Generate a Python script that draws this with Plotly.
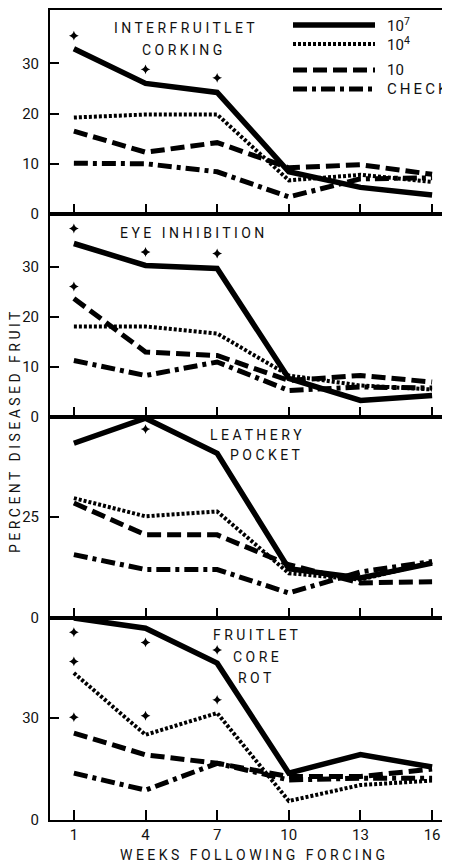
import plotly.graph_objects as go

weeks = [1, 4, 7, 10, 13, 16]
week_labels = ["1", "4", "7", "10", "13", "16"]
series_names = ["10<sup>7</sup>", "10<sup>4</sup>", "10", "CHECK"]

# Panel 1: interfruitlet corking
corking_1e7 = [32.9, 26.0, 24.2, 8.4, 5.3, 3.8]
corking_1e4 = [19.2, 19.8, 19.8, 6.7, 7.8, 6.4]
corking_10 = [16.5, 12.3, 14.2, 9.2, 9.8, 7.9]
corking_check = [10.1, 10.0, 8.4, 3.4, 7.0, 7.2]
corking_sig_x = [1, 4, 7]
corking_sig_y = [35.5, 28.8, 27.1]

# Panel 2: eye inhibition
eye_1e7 = [34.7, 30.3, 29.7, 7.7, 3.3, 4.3]
eye_1e4 = [18.1, 18.1, 16.7, 8.3, 6.3, 5.5]
eye_10 = [23.7, 13.0, 12.3, 7.3, 8.3, 7.0]
eye_check = [11.3, 8.3, 11.0, 5.3, 6.0, 5.8]
eye_sig_x = [1, 4, 7, 1]
eye_sig_y = [37.7, 33.0, 32.7, 26.1]

# Panel 3: leathery pocket
leather_1e7 = [43.3, 49.5, 40.8, 12.2, 9.9, 13.6]
leather_1e4 = [29.7, 25.2, 26.4, 11.1, 9.5, 13.8]
leather_10 = [28.5, 20.6, 20.6, 13.2, 8.7, 9.0]
leather_check = [15.7, 12.0, 12.0, 6.2, 11.4, 14.0]
leather_sig_x = [4]
leather_sig_y = [46.8]

# Panel 4: fruitlet core rot
core_1e7 = [59.5, 56.5, 46.2, 13.8, 19.3, 15.6]
core_1e4 = [43.3, 25.1, 31.5, 5.6, 10.3, 11.6]
core_10 = [25.6, 19.2, 16.7, 12.8, 12.8, 15.0]
core_check = [13.8, 8.8, 16.7, 11.8, 12.3, 12.3]
core_sig_x = [1, 1, 1, 4, 4, 7, 7]
core_sig_y = [55.3, 46.7, 30.3, 52.3, 30.7, 50.1, 35.4]

panel_series = [
    [corking_1e7, corking_1e4, corking_10, corking_check],
    [eye_1e7, eye_1e4, eye_10, eye_check],
    [leather_1e7, leather_1e4, leather_10, leather_check],
    [core_1e7, core_1e4, core_10, core_check],
]
panel_sig = [
    (corking_sig_x, corking_sig_y),
    (eye_sig_x, eye_sig_y),
    (leather_sig_x, leather_sig_y),
    (core_sig_x, core_sig_y),
]
panel_ranges = [[0, 40.6], [0, 40.6], [0, 49.8], [0, 59.5]]
panel_ticks = [[0, 10, 20, 30], [0, 10, 20, 30], [0, 25], [0, 30]]

# page body has an 8px margin; figure sized to fill the rest of the window
OFF = 8
W, H = 450 - OFF, 866 - OFF
ML, MR, MT, MB = 50 - OFF, 0, 10 - OFF, 866 - 820
PW, PH = W - ML - MR, H - MT - MB
# panel boundaries in screen pixels (top to bottom)
bounds = [10, 214, 417, 618, 820]


def py(y):
    return (820 - y) / PH


def px(x):
    return (x - 50) / PW


styles = [
    dict(width=5.5, dash="solid"),
    dict(width=4, dash="3px,2px"),
    dict(width=5, dash="14px,6px"),
    dict(width=5, dash="14px,5px,4px,5px"),
]

FONT = "Roboto, Liberation Sans, sans-serif"

fig = go.Figure()
for i in range(4):
    xa = "x" if i == 0 else f"x{i+1}"
    ya = "y" if i == 0 else f"y{i+1}"
    for s, vals in enumerate(panel_series[i]):
        fig.add_trace(go.Scatter(
            x=weeks, y=vals, mode="lines", xaxis=xa, yaxis=ya,
            line=dict(color="black", **styles[s]), name=series_names[s],
            showlegend=False,
        ))
    sx, sy = panel_sig[i]
    fig.add_trace(go.Scatter(
        x=sx, y=sy, mode="markers", xaxis=xa, yaxis=ya,
        marker=dict(symbol="star-diamond", size=7, color="black"),
        showlegend=False,
    ))

layout = dict(
    width=W, height=H,
    margin=dict(l=ML, r=MR, t=MT, b=MB, autoexpand=False),
    plot_bgcolor="white", paper_bgcolor="white",
    font=dict(family=FONT, size=15, color="#111"),
    showlegend=False,
)
for i in range(4):
    top, bot = bounds[i], bounds[i + 1]
    dom = [py(bot), min(1, py(top))]
    xk = "xaxis" if i == 0 else f"xaxis{i+1}"
    yk = "yaxis" if i == 0 else f"yaxis{i+1}"
    ya = "y" if i == 0 else f"y{i+1}"
    xa = "x" if i == 0 else f"x{i+1}"
    layout[xk] = dict(
        domain=[0, 1], anchor=ya, range=[0, 16.75], automargin=False,
        tickvals=weeks, ticktext=week_labels, showticklabels=(i == 3),
        ticks="inside", ticklen=10, tickwidth=2, tickcolor="black",
        showline=True, linewidth=2, linecolor="black", mirror=True,
        showgrid=False, zeroline=False,
        tickfont=dict(family=FONT, size=15, color="#111"),
        **({} if i == 3 else {"matches": "x4"}),
    )
    layout[yk] = dict(
        domain=dom, anchor=xa, range=panel_ranges[i], automargin=False,
        tickvals=panel_ticks[i], ticks="inside", ticklen=9, tickwidth=2,
        tickcolor="black", showline=True, linewidth=2, linecolor="black",
        showgrid=False, zeroline=False, ticklabelstandoff=6,
        tickfont=dict(family=FONT, size=15, color="#111"),
    )
    # right-side ticks
    rk = f"yaxis{i+5}"
    layout[rk] = dict(
        overlaying=ya, side="right", anchor=xa, range=panel_ranges[i],
        tickvals=panel_ticks[i], ticks="inside", ticklen=9, tickwidth=2,
        tickcolor="black", showticklabels=False, showline=False,
        showgrid=False, zeroline=False, automargin=False,
    )
fig.update_layout(**layout)


def spaced(text):
    return "   ".join(" ".join(list(w)) for w in text.split(" "))


titles = [
    ("INTERFRUITLET", 184, 28), ("CORKING", 182, 50),
    ("EYE INHIBITION", 192, 233),
    ("LEATHERY", 256, 435), ("POCKET", 265, 455),
    ("FRUITLET", 256, 635), ("CORE", 256, 657), ("ROT", 255, 678),
]
for t, x, y in titles:
    fig.add_annotation(text=spaced(t), x=px(x), y=py(y), xref="paper", yref="paper",
                       showarrow=False, xanchor="center", yanchor="middle",
                       font=dict(family=FONT, size=14, color="#111"))

# legend
legend_rows = [25, 44, 70, 89]
for s in range(4):
    yy = py(legend_rows[s])
    fig.add_shape(type="line", xref="paper", yref="paper",
                  x0=px(293), x1=px(375), y0=yy, y1=yy,
                  line=dict(color="black", **styles[s]))
    fig.add_annotation(text=series_names[s] if s < 3 else "C\u2009H\u2009E\u2009C\u2009K",
                       x=px(385), y=yy, xref="paper", yref="paper",
                       showarrow=False, xanchor="left", yanchor="middle",
                       font=dict(family=FONT, size=15, color="#111"))

# axis titles
fig.add_annotation(text=spaced("PERCENT DISEASED FRUIT"), x=px(15), y=py(432),
                   xref="paper", yref="paper", showarrow=False, textangle=-90,
                   xanchor="center", yanchor="middle",
                   font=dict(family=FONT, size=14, color="#111"))
fig.add_annotation(text=spaced("WEEKS FOLLOWING FORCING"), x=px(253), y=py(855),
                   xref="paper", yref="paper", showarrow=False,
                   xanchor="center", yanchor="middle",
                   font=dict(family=FONT, size=14, color="#111"))

fig.write_html("out.html")
